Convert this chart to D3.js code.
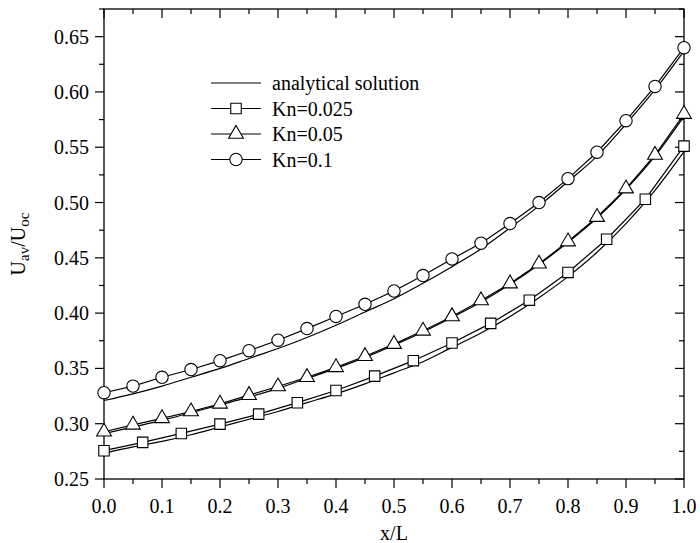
<!DOCTYPE html>
<html>
<head>
<meta charset="utf-8">
<script src="https://cdn.jsdelivr.net/npm/d3@7"></script>
<style>
  body { margin: 0; background: #fff; }
</style>
</head>
<body>
<svg id="chart" width="700" height="543"></svg>
<script>
// x positions
const xSim = [0, 0.05, 0.1, 0.15, 0.2, 0.25, 0.3, 0.35, 0.4, 0.45, 0.5, 0.55, 0.6, 0.65, 0.7, 0.75, 0.8, 0.85, 0.9, 0.95, 1.0]
const xSq = [0, 1/15, 2/15, 3/15, 4/15, 5/15, 6/15, 7/15, 8/15, 9/15, 10/15, 11/15, 12/15, 13/15, 14/15, 1.0]

// simulation results
const kn0025 = [0.2756, 0.2831, 0.2912, 0.2996, 0.3087, 0.319, 0.330, 0.343, 0.357, 0.373, 0.3907, 0.4117, 0.4368, 0.4668, 0.503, 0.551]
const kn005 = [0.2927, 0.299, 0.3048, 0.311, 0.318, 0.3258, 0.3336, 0.342, 0.351, 0.361, 0.372, 0.384, 0.397, 0.4114, 0.4267, 0.4446, 0.4647, 0.4868, 0.5126, 0.543, 0.580]
const kn01 = [0.328, 0.334, 0.342, 0.349, 0.357, 0.366, 0.3755, 0.386, 0.397, 0.408, 0.420, 0.434, 0.449, 0.4632, 0.481, 0.500, 0.5216, 0.5455, 0.574, 0.605, 0.640]

// analytical solution, same x as xSim
const an0025 = [0.2732, 0.279, 0.284, 0.290, 0.297, 0.304, 0.311, 0.319, 0.327, 0.336, 0.346, 0.356, 0.369, 0.382, 0.397, 0.414, 0.433, 0.455, 0.481, 0.511, 0.546]
const an005 = [0.291, 0.297, 0.303, 0.310, 0.317, 0.324, 0.332, 0.341, 0.350, 0.360, 0.371, 0.383, 0.396, 0.410, 0.426, 0.444, 0.464, 0.486, 0.512, 0.542, 0.578]
const an01 = [0.321, 0.327, 0.334, 0.342, 0.350, 0.359, 0.368, 0.378, 0.389, 0.401, 0.413, 0.427, 0.442, 0.458, 0.477, 0.497, 0.519, 0.542, 0.571, 0.602, 0.637]

const xTicks = [0, 0.1, 0.2, 0.3, 0.4, 0.5, 0.6, 0.7, 0.8, 0.9, 1.0]
const yTicks = [0.25, 0.30, 0.35, 0.40, 0.45, 0.50, 0.55, 0.60, 0.65]
const legendNames = ['analytical solution', 'Kn=0.025', 'Kn=0.05', 'Kn=0.1']

const FONT = 'Liberation Serif'
const svg = d3.select('#chart')
const pLeft = 104, pRight = 684, pTop = 9, pBottom = 479

const x = d3.scaleLinear().domain([0, 1]).range([pLeft, pRight])
const y = d3.scaleLinear().domain([0.25, 0.675]).range([pBottom, pTop])

const xMinor = d3.range(0, 1.0001, 0.05)
const yMinor = d3.range(0.25, 0.6751, 0.025)

// frame
svg.append('rect')
  .attr('x', pLeft).attr('y', pTop)
  .attr('width', pRight - pLeft).attr('height', pBottom - pTop)
  .attr('fill', 'none').attr('stroke', '#000').attr('stroke-width', 1.3)

const g = svg.append('g').attr('stroke', '#000').attr('stroke-width', 1.2)

// bottom ticks (outward) and top ticks (inward)
xMinor.forEach((v, i) => {
  const len = i % 2 === 0 ? 9 : 5
  g.append('line').attr('x1', x(v)).attr('x2', x(v)).attr('y1', pBottom).attr('y2', pBottom + len)
  g.append('line').attr('x1', x(v)).attr('x2', x(v)).attr('y1', pTop).attr('y2', pTop + len)
})
// left ticks (outward) and right ticks (inward)
yMinor.forEach((v, i) => {
  const len = i % 2 === 0 ? 9 : 5
  g.append('line').attr('y1', y(v)).attr('y2', y(v)).attr('x1', pLeft).attr('x2', pLeft - len)
  g.append('line').attr('y1', y(v)).attr('y2', y(v)).attr('x1', pRight).attr('x2', pRight - len)
})

svg.selectAll('.xl').data(xTicks).enter().append('text')
  .attr('font-family', FONT)
  .attr('x', d => x(d)).attr('y', 513)
  .attr('text-anchor', 'middle').style('font-size', '20px')
  .text(d => d.toFixed(1))

svg.selectAll('.yl').data(yTicks).enter().append('text')
  .attr('font-family', FONT)
  .attr('x', 89).attr('y', d => y(d) + 7)
  .attr('text-anchor', 'end').style('font-size', '20px')
  .text(d => d.toFixed(2))

svg.append('text')
  .attr('font-family', FONT)
  .attr('x', (pLeft + pRight) / 2).attr('y', 540)
  .attr('text-anchor', 'middle').style('font-size', '20px')
  .text('x/L')

const yl = svg.append('text')
  .attr('font-family', FONT)
  .attr('transform', 'translate(25,' + (pTop + pBottom) / 2 + ') rotate(-90)')
  .attr('text-anchor', 'middle').style('font-size', '20px')
yl.append('tspan').text('U')
yl.append('tspan').attr('dy', 4).style('font-size', '15px').text('av')
yl.append('tspan').attr('dy', -4).text('/U')
yl.append('tspan').attr('dy', 4).style('font-size', '15px').text('oc')

// lines
const line = d3.line().x(d => x(d[0])).y(d => y(d[1]))
const smooth = d3.line().x(d => x(d[0])).y(d => y(d[1])).curve(d3.curveMonotoneX)

const plot = svg.append('g')
;[an0025, an005, an01].forEach(a => {
  plot.append('path').datum(d3.zip(xSim, a)).attr('d', smooth)
    .attr('fill', 'none').attr('stroke', '#000').attr('stroke-width', 1.2)
})
const sims = [
  { xs: xSq, ys: kn0025, shape: 'square' },
  { xs: xSim, ys: kn005, shape: 'triangle' },
  { xs: xSim, ys: kn01, shape: 'circle' }
]
const symbolOf = {
  square: d3.symbol().type(d3.symbolSquare).size(110),
  triangle: d3.symbol().type(d3.symbolTriangle).size(95),
  circle: d3.symbol().type(d3.symbolCircle).size(120)
}
sims.forEach(s => {
  plot.append('path').datum(d3.zip(s.xs, s.ys)).attr('d', line)
    .attr('fill', 'none').attr('stroke', '#000').attr('stroke-width', 1.2)
})
sims.forEach(s => {
  plot.selectAll(null).data(d3.zip(s.xs, s.ys)).enter().append('path')
    .attr('d', symbolOf[s.shape])
    .attr('transform', d => 'translate(' + x(d[0]) + ',' + y(d[1]) + ')')
    .attr('fill', '#fff').attr('stroke', '#000').attr('stroke-width', 1.1)
})

// legend
const lg = svg.append('g')
legendNames.forEach((name, i) => {
  const ly = 83 + i * 25.5
  lg.append('line').attr('x1', 211).attr('x2', 261).attr('y1', ly).attr('y2', ly)
    .attr('stroke', '#000').attr('stroke-width', 1.2)
  if (i > 0) {
    lg.append('path').attr('d', symbolOf[sims[i - 1].shape])
      .attr('transform', 'translate(236,' + ly + ')')
      .attr('fill', '#fff').attr('stroke', '#000').attr('stroke-width', 1.1)
  }
  lg.append('text').attr('font-family', FONT)
    .attr('x', 272).attr('y', ly + 7).style('font-size', '20px').text(name)
})
</script>
</body>
</html>
